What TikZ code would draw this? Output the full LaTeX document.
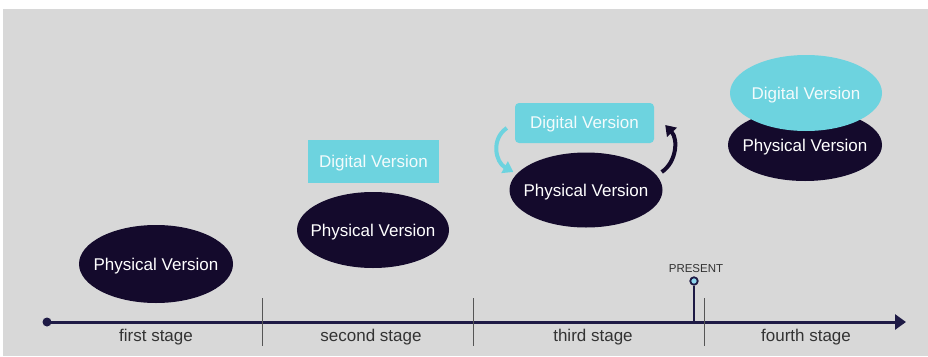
\documentclass[tikz,border=0pt]{standalone}
\usepackage{fontspec}
\setmainfont{Liberation Sans}
\usetikzlibrary{shapes.geometric,arrows.meta,calc}
\definecolor{bgc}{HTML}{D8D8D8}
\definecolor{navy}{HTML}{140A2C}
\definecolor{cyanv}{HTML}{6DD3DF}
\definecolor{axisc}{HTML}{1E1A45}
\definecolor{labelc}{HTML}{333333}
\definecolor{sepc}{HTML}{555555}
\definecolor{presc}{HTML}{8FD6EE}
\begin{document}
\begin{tikzpicture}[x=1pt,y=-1pt,
  txt/.style={font=\fontsize{17}{20}\selectfont},
  phys/.style={ellipse,fill=navy,minimum width=152pt,minimum height=76pt,inner sep=0pt,
    label={[txt,text=white,inner sep=0pt,yshift=-2pt]center:#1}},
  digi/.style={rectangle,fill=cyanv,inner sep=0pt,
    label={[txt,text=white!92!cyanv,inner sep=0pt,yshift=-1.5pt]center:#1}},
  digiell/.style={ellipse,fill=cyanv,inner sep=0pt,
    label={[txt,text=white!92!cyanv,inner sep=0pt,yshift=-2pt]center:#1}},
  stagelbl/.style={txt,text=labelc,inner sep=0pt,yshift=-2pt},
  sepline/.style={draw=sepc,line width=1pt},
  cyanarrow/.style={draw=cyanv,line width=4pt,-{Triangle[length=10pt,width=13pt]}},
  navyarrow/.style={draw=navy,line width=4pt,-{Triangle[length=10pt,width=13pt]}}]
\useasboundingbox (0,0) rectangle (928,356);
\fill[white] (0,0) rectangle (928,356);
\fill[bgc] (3,9) rectangle (928,356);

% timeline
\coordinate (tstart) at (47,322);
\coordinate (tend) at (906,322);
\draw[axisc,line width=3pt,-{Triangle[length=11pt,width=15pt]}] (tstart) -- (tend);
\fill[axisc] (tstart) circle (4.5);

% separators
\coordinate (s1a) at (262,298); \coordinate (s1b) at (262,346);
\coordinate (s2a) at (473,298); \coordinate (s2b) at (473,346);
\coordinate (s3a) at (704,298); \coordinate (s3b) at (704,346);
\draw[sepline] (s1a) -- (s1b);
\draw[sepline] (s2a) -- (s2b);
\draw[sepline] (s3a) -- (s3b);

% stage labels
\node[stagelbl] (l1) at (156,335) {first stage};
\node[stagelbl] (l2) at (371,335) {second stage};
\node[stagelbl] (l3) at (593,335) {third stage};
\node[stagelbl] (l4) at (806,335) {fourth stage};

% present marker
\coordinate (pbase) at (694,322);
\node[circle,draw=axisc,line width=1.8pt,fill=presc,minimum size=7.5pt,inner sep=0pt] (pdot) at (694,281) {};
\draw[axisc,line width=2.5pt] (pdot.south) -- (pbase);
\node[font=\fontsize{11.5}{13}\selectfont,text=labelc,inner sep=0pt,yshift=-1pt] (ptxt) at (696,268) {PRESENT};

% stage 1
\node[phys=Physical Version,minimum width=154pt,minimum height=78pt] (p1) at (156,264) {};

% stage 2
\node[digi=Digital Version,minimum width=131pt,minimum height=43pt] (d2) at (373.5,161.5) {};
\node[phys=Physical Version] (p2) at (373,230) {};

% stage 3
\node[digi=Digital Version,rounded corners=4pt,minimum width=139pt,minimum height=40pt] (d3) at (584.5,123) {};
\node[phys=Physical Version,minimum width=153pt,minimum height=75pt] (p3) at (586,190) {};
\draw[cyanarrow] ($(d3.west)+(-8,5)$) .. controls ($(d3.west)+(-24,16)$) and ($(p3.west)+(-14,-28)$) .. ($(p3.west)+(4,-18)$);
\draw[navyarrow] ($(p3.east)+(-1,-18)$) .. controls ($(p3.east)+(14,-28)$) and ($(d3.east)+(24,16)$) .. ($(d3.east)+(11,2)$);

% stage 4
\node[phys=Physical Version,minimum width=154pt,minimum height=72pt] (p4) at (805,145) {};
\node[digiell=Digital Version,minimum width=152pt,minimum height=76pt] (d4) at (806,93) {};
\end{tikzpicture}
\end{document}
